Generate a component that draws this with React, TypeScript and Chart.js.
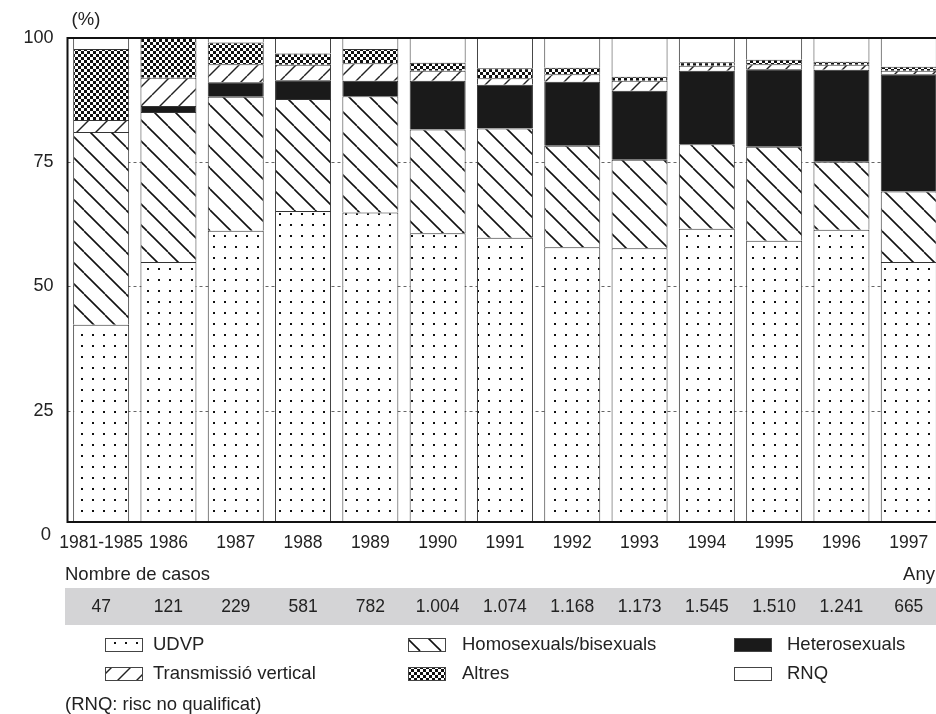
import React, { useEffect, useRef } from "react";
import { Chart, registerables } from "chart.js";
Chart.register(...registerables);

const categories = ["1981-1985", "1986", "1987", "1988", "1989", "1990", "1991", "1992", "1993", "1994", "1995", "1996", "1997"];
const udvp = [42.3, 54.9, 61.2, 65.2, 64.9, 60.7, 59.8, 57.9, 57.7, 61.6, 59.2, 61.4, 54.9];
const homo = [38.8, 30.2, 27.0, 22.5, 23.4, 20.9, 22.0, 20.4, 17.8, 17.0, 18.9, 13.7, 14.2];
const hetero = [0, 1.2, 2.9, 3.8, 3.1, 9.8, 8.8, 12.9, 13.9, 14.8, 15.6, 18.5, 23.6];
const vertical = [2.4, 5.7, 3.6, 3.1, 3.5, 2.0, 1.3, 1.5, 2.0, 1.0, 1.0, 1.0, 0.7];
const altres = [14.3, 8.0, 4.4, 2.3, 2.9, 1.6, 2.0, 1.3, 0.8, 0.7, 0.9, 0.6, 0.8];
const rnq = [2.2, 0, 0.9, 3.1, 2.2, 5.0, 6.1, 6.0, 7.8, 4.9, 4.4, 4.8, 5.8];
const cases = ["47", "121", "229", "581", "782", "1.004", "1.074", "1.168", "1.173", "1.545", "1.510", "1.241", "665"];
const yTicks = [0, 25, 50, 75, 100];
const gridTicks = [25, 50, 75];

const FONT = "'Liberation Sans', Arial, sans-serif";
const TEXT = "#222";

function makePattern(w: number, h: number, draw: (c: CanvasRenderingContext2D) => void) {
  const cv = document.createElement("canvas");
  cv.width = w;
  cv.height = h;
  const c = cv.getContext("2d")!;
  c.fillStyle = "#fff";
  c.fillRect(0, 0, w, h);
  draw(c);
  return c.createPattern(cv, "repeat")!;
}

function buildPatterns() {
  const dots = makePattern(11, 11, (c) => {
    c.fillStyle = "#111";
    c.fillRect(4, 4, 2, 2);
  });
  const back = makePattern(21, 21, (c) => {
    c.strokeStyle = "#111";
    c.lineWidth = 1.6;
    for (const k of [-21, 0, 21]) {
      c.beginPath();
      c.moveTo(k, 0);
      c.lineTo(k + 21, 21);
      c.stroke();
    }
  });
  const fwd = makePattern(19, 19, (c) => {
    c.strokeStyle = "#222";
    c.lineWidth = 1.4;
    for (const k of [-19, 0, 19]) {
      c.beginPath();
      c.moveTo(k, 19);
      c.lineTo(k + 19, 0);
      c.stroke();
    }
  });
  const checker = makePattern(6, 6, (c) => {
    c.fillStyle = "#111";
    c.fillRect(0, 0, 3, 3);
    c.fillRect(3, 3, 3, 3);
  });
  return { dots, back, fwd, checker };
}

export default function App() {
  const ref = useRef<HTMLCanvasElement | null>(null);

  useEffect(() => {
    document.body.style.margin = "0";
    const canvas = ref.current!;
    const p = buildPatterns();

    const legendItems = [
      { x: 105, tx: 153, row: 0, label: "UDVP", fill: p.dots },
      { x: 105, tx: 153, row: 1, label: "Transmissió vertical", fill: p.fwd },
      { x: 408, tx: 462, row: 0, label: "Homosexuals/bisexuals", fill: p.back },
      { x: 408, tx: 462, row: 1, label: "Altres", fill: p.checker },
      { x: 734, tx: 787, row: 0, label: "Heterosexuals", fill: "#1a1a1a" },
      { x: 734, tx: 787, row: 1, label: "RNQ", fill: "#fff" },
    ];

    const framePlugin = {
      id: "frame",
      beforeDatasetsDraw(chart: any) {
        const { ctx, chartArea: a, scales } = chart;
        ctx.save();
        ctx.strokeStyle = "#666";
        ctx.lineWidth = 1;
        ctx.setLineDash([3, 3]);
        for (const v of gridTicks) {
          const y = Math.round(scales.y.getPixelForValue(v)) + 0.5;
          ctx.beginPath();
          ctx.moveTo(a.left, y);
          ctx.lineTo(a.right, y);
          ctx.stroke();
        }
        ctx.restore();
      },
      afterDatasetsDraw(chart: any) {
        const { ctx, chartArea: a } = chart;
        ctx.save();
        ctx.strokeStyle = "#111";
        ctx.lineWidth = 2;
        ctx.beginPath();
        ctx.moveTo(a.left, a.top);
        ctx.lineTo(a.right, a.top);
        ctx.moveTo(a.left, a.top - 1);
        ctx.lineTo(a.left, a.bottom + 1);
        ctx.moveTo(a.left, a.bottom);
        ctx.lineTo(a.right, a.bottom);
        ctx.stroke();
        ctx.restore();
      },
      afterDraw(chart: any) {
        const { ctx, scales } = chart;
        ctx.save();
        ctx.fillStyle = TEXT;
        ctx.textBaseline = "middle";
        ctx.font = `18.5px ${FONT}`;
        ctx.textAlign = "center";
        ctx.fillText("(%)", 86, 20);
        ctx.textAlign = "right";
        ctx.fillText(String(yTicks[0]), 51, scales.y.getPixelForValue(yTicks[0]));
        ctx.textAlign = "left";
        ctx.fillText("Nombre de casos", 65, 575);
        ctx.textAlign = "right";
        ctx.fillText("Any", 935, 575);
        ctx.fillStyle = "#d4d4d6";
        ctx.fillRect(65, 588, 900, 37);
        ctx.fillStyle = TEXT;
        ctx.textAlign = "center";
        ctx.font = `17.5px ${FONT}`;
        cases.forEach((c, i) => {
          ctx.fillText(c, scales.x.getPixelForValue(i), 607);
        });
        ctx.font = `18.5px ${FONT}`;
        ctx.textAlign = "left";
        for (const it of legendItems) {
          const cy = it.row === 0 ? 645 : 674;
          ctx.fillStyle = it.fill as any;
          ctx.fillRect(it.x, cy - 7, 38, 14);
          ctx.strokeStyle = "#444";
          ctx.lineWidth = 1;
          ctx.strokeRect(it.x + 0.5, cy - 6.5, 37, 13);
          ctx.fillStyle = TEXT;
          ctx.fillText(it.label, it.tx, cy);
        }
        ctx.fillText("(RNQ: risc no qualificat)", 65, 705);
        ctx.restore();
      },
    };

    const common = {
      borderColor: "#333",
      borderWidth: 1,
      categoryPercentage: 1,
      barPercentage: 0.832,
      stack: "s",
    };

    const chart = new Chart(canvas, {
      type: "bar",
      data: {
        labels: categories,
        datasets: [
          { label: "UDVP", data: udvp, backgroundColor: p.dots, ...common },
          { label: "Homosexuals/bisexuals", data: homo, backgroundColor: p.back, ...common },
          { label: "Heterosexuals", data: hetero, backgroundColor: "#1a1a1a", ...common },
          { label: "Transmissió vertical", data: vertical, backgroundColor: p.fwd, ...common },
          { label: "Altres", data: altres, backgroundColor: p.checker, ...common },
          { label: "RNQ", data: rnq, backgroundColor: "#ffffff", ...common },
        ] as any,
      },
      options: {
        animation: false,
        responsive: false,
        devicePixelRatio: 1,
        layout: { padding: { top: 38, left: 0, right: 17.6, bottom: 162 } },
        plugins: { legend: { display: false }, tooltip: { enabled: false }, title: { display: false } },
        scales: {
          x: {
            stacked: true,
            grid: { display: false, drawTicks: false },
            border: { display: false },
            ticks: {
              autoSkip: false,
              maxRotation: 0,
              minRotation: 0,
              padding: 11,
              color: TEXT,
              font: { family: FONT, size: 17.5 },
            },
            afterFit: (s: any) => {
              s.height = 30;
            },
          },
          y: {
            stacked: true,
            min: 2.6,
            max: 100,
            grid: { display: false, drawTicks: false },
            border: { display: false },
            ticks: {
              padding: 14,
              color: TEXT,
              font: { family: FONT, size: 18 },
            },
            afterBuildTicks: (s: any) => {
              s.ticks = yTicks.filter((v) => v >= 2.6).map((v) => ({ value: v }));
            },
            afterFit: (s: any) => {
              s.width = 67.5;
            },
          },
        },
      },
      plugins: [framePlugin],
    } as any);

    return () => chart.destroy();
  }, []);

  return (
    <div style={{ width: 936, height: 714, overflow: "hidden", position: "relative", background: "#fff" }}>
      <canvas ref={ref} width={960} height={714} style={{ display: "block" }} />
    </div>
  );
}
